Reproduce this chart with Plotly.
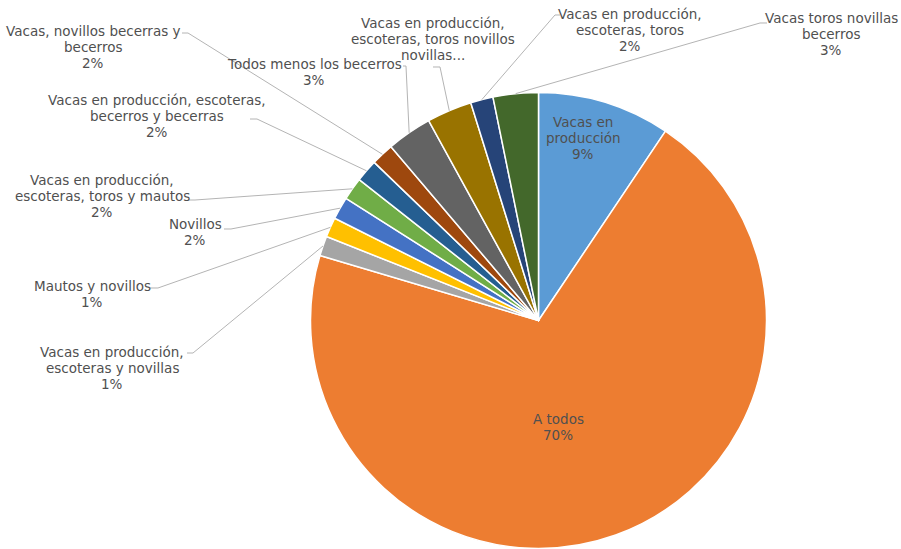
import math
import plotly.graph_objects as go

W, H = 901, 549

categories = [
    "Vacas en producción",
    "A todos",
    "Vacas en producción, escoteras y novillas",
    "Mautos y novillos",
    "Novillos",
    "Vacas en producción, escoteras, toros y mautos",
    "Vacas en producción, escoteras, becerros y becerras",
    "Vacas, novillos becerras y becerros",
    "Todos menos los becerros",
    "Vacas en producción, escoteras, toros novillos novillas...",
    "Vacas en producción, escoteras, toros",
    "Vacas toros novillas becerros",
]
values = [9.4, 70.2, 1.4, 1.4, 1.6, 1.6, 1.6, 1.6, 3.2, 3.2, 1.6, 3.2]
colors = ["#5B9BD5", "#ED7D31", "#A5A5A5", "#FFC000", "#4472C4", "#70AD47",
          "#255E91", "#9E480E", "#636363", "#997300", "#264478", "#43682B"]

# displayed label text, split into lines as in the chart
label_lines = [
    ["Vacas en", "producción"],
    ["A todos"],
    ["Vacas en producción,", "escoteras y novillas"],
    ["Mautos y novillos"],
    ["Novillos"],
    ["Vacas en producción,", "escoteras, toros y mautos"],
    ["Vacas en producción, escoteras,", "becerros y becerras"],
    ["Vacas, novillos becerras y", "becerros"],
    ["Todos menos los becerros"],
    ["Vacas en producción,", "escoteras, toros novillos", "novillas..."],
    ["Vacas en producción,", "escoteras, toros"],
    ["Vacas toros novillas", "becerros"],
]
show_pct = [True] * 9 + [False] + [True, True]

# layout: pie geometry (pixels)
CX, CY, R = 538.5, 320.5, 228
LINE_H = 16
FONT_SIZE = 13.5
# label block centers (pixels) and leader-line start/elbow points (None = inside label)
label_pos = [(583, 138), (558, 427), (112, 368), (92, 294), (195, 232), (102, 196),
             (157, 116), (93, 47), (314, 72), (433, 39), (630, 30), (831, 34)]
leader = [None, None,
          [(187, 353), (193, 353)],
          [(150, 288), (158, 288)],
          [(224, 229), (231, 229)],
          [(188, 200), (195, 200)],
          [(250, 119), (257, 119)],
          [(182, 33), (188, 33)],
          [(403, 66), (406, 66)],
          [(433, 67), (440, 67)],
          [(560, 15), (555, 15)],
          [(767, 23), (760, 23)]]

def px(x):
    return x / W

def py(y):
    return 1 - y / H

total = sum(values)
fig = go.Figure(go.Pie(
    labels=categories, values=values, sort=False, direction="clockwise",
    rotation=0, marker=dict(colors=colors, line=dict(color="white", width=1.5)),
    textinfo="none", hoverinfo="label+percent", showlegend=False,
    domain=dict(x=[px(CX - R), px(CX + R)], y=[py(CY + R), py(CY - R)]),
))

annotations = []
shapes = []
cum = 0.0
for i, v in enumerate(values):
    mid = (cum + v / 2) / total * 2 * math.pi
    cum += v
    pct = round(v / total * 100)
    lines = list(label_lines[i]) + ([f"{pct}%"] if show_pct[i] else [])
    lx, ly = label_pos[i]
    n = len(lines)
    for k, line in enumerate(lines):
        yk = ly + (k - (n - 1) / 2) * LINE_H
        annotations.append(dict(
            x=px(lx), y=py(yk), xref="paper", yref="paper", text=line, showarrow=False,
            xanchor="center", yanchor="middle", align="center",
            font=dict(family="Verdana, DejaVu Sans, sans-serif", size=FONT_SIZE,
                      color="#505050"),
        ))
    if leader[i] is not None:
        ex = CX + R * math.sin(mid)
        ey = CY - R * math.cos(mid)
        pts = leader[i] + [(ex, ey)]
        path = "M " + " L ".join(f"{px(a):.5f},{py(b):.5f}" for a, b in pts)
        shapes.append(dict(type="path", xref="paper", yref="paper", path=path,
                           line=dict(color="#B4B4B4", width=1)))

fig.update_layout(
    width=W, height=H, margin=dict(l=0, r=0, t=0, b=0),
    paper_bgcolor="white", plot_bgcolor="white",
    annotations=annotations, shapes=shapes,
)
fig.write_html("out.html", config={"displayModeBar": False},
               post_script="document.body.style.margin='0';")
